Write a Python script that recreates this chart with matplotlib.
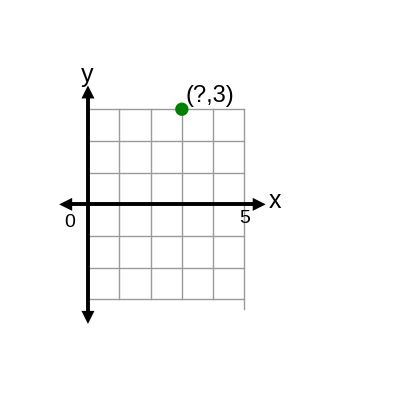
import matplotlib
matplotlib.use("Agg")
import matplotlib.pyplot as plt

# data
grid_x = [0, 1, 2, 3, 4, 5]
grid_y = [-3, -2, -1, 0, 1, 2, 3]
point_x = [3]
point_y = [3]
point_labels = ["(?,3)"]
tick_labels = ["0", "5"]
tick_values = [0, 5]

fig = plt.figure(figsize=(4, 4), dpi=100)
ax = fig.add_axes([0, 0, 1, 1])
ax.set_xlim(-2.81, 9.97)
ax.set_ylim(-6.17, 6.445)
ax.axis("off")

gc = "#9a9a9a"
for gx in grid_x:
    bottom = -3.3 if gx == grid_x[-1] else grid_y[0]
    ax.plot([gx, gx], [bottom, grid_y[-1]], color=gc, lw=1.0, zorder=1)
for gy in grid_y:
    ax.plot([grid_x[0], grid_x[-1]], [gy, gy], color=gc, lw=1.0, zorder=1)

# axes lines
xl, xr = -0.92, 5.68
yt, yb = 3.75, -3.77
ax.plot([xl + 0.2, xr - 0.2], [0, 0], color="black", lw=2.8, zorder=3, solid_capstyle="butt")
ax.plot([0, 0], [yb + 0.2, yt - 0.2], color="black", lw=2.8, zorder=3, solid_capstyle="butt")
head = dict(arrowstyle="<|-|>,head_length=0.72,head_width=0.36", color="black", lw=0,
            shrinkA=0, shrinkB=0, mutation_scale=13)
ax.annotate("", xy=(xl, 0), xytext=(xr, 0), arrowprops=head, zorder=4)
ax.annotate("", xy=(0, yt), xytext=(0, yb), arrowprops=head, zorder=4)

fam = "Liberation Sans"
ax.text(5.96, -0.117, "x", fontsize=18, family=fam, va="baseline", ha="center")
ax.text(-0.03, 3.86, "y", fontsize=18, family=fam, va="baseline", ha="center", zorder=5)
ax.text(-0.59, -0.70, tick_labels[0], fontsize=14, family=fam, va="baseline", ha="center")
ax.text(tick_values[1], -0.59, tick_labels[1], fontsize=14, family=fam, va="baseline", ha="center")

ax.scatter(point_x, point_y, s=92, color="green", zorder=6, edgecolors="none")
for px, py, lab in zip(point_x, point_y, point_labels):
    ax.text(px + 0.12, py + 0.22, lab, fontsize=17, family=fam, va="baseline", ha="left")

fig.savefig("out.png", dpi=100)
